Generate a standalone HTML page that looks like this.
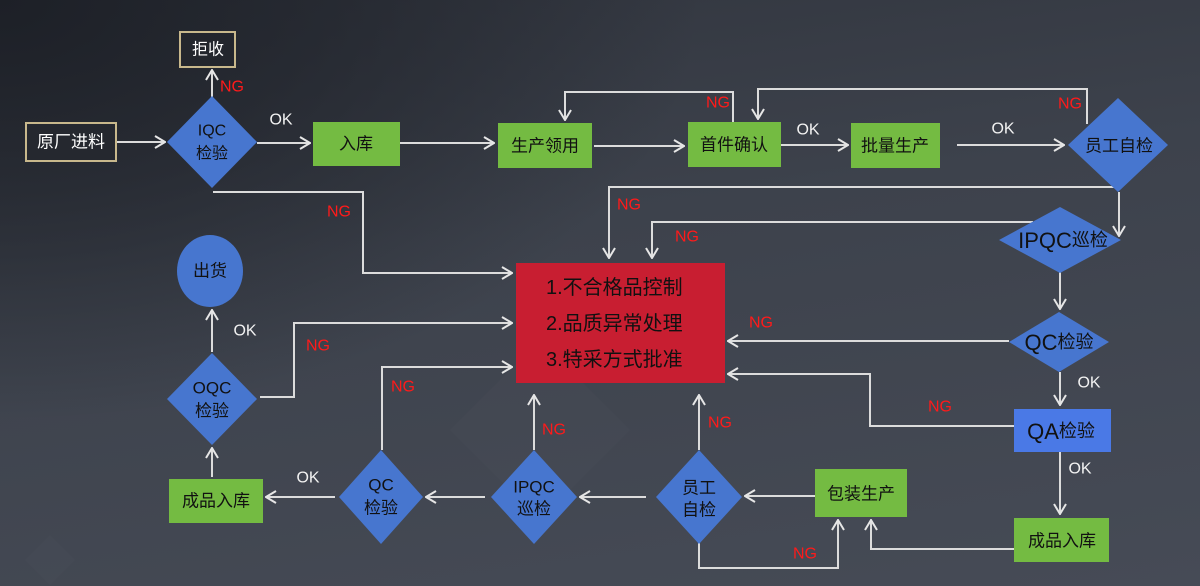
<!DOCTYPE html>
<html><head><meta charset="utf-8"><style>
html,body{margin:0;padding:0;width:1200px;height:586px;overflow:hidden;}
body{position:relative;background:radial-gradient(ellipse 700px 420px at 0% 0%, #1d2027 0%, rgba(29,32,39,0.6) 45%, rgba(29,32,39,0) 100%),linear-gradient(172deg,#31353e 0%,#3d424c 40%,#464b56 100%);}
svg{position:absolute;left:0;top:0;display:block;}
text{font-family:"Liberation Sans","Noto Sans CJK SC",sans-serif;}
</style></head><body>
<svg width="1200" height="586" viewBox="0 0 1200 586" xmlns="http://www.w3.org/2000/svg">
<defs>
<marker id="a" viewBox="0 0 12 14" refX="11" refY="7" markerWidth="12" markerHeight="14" markerUnits="userSpaceOnUse" orient="auto">
<path d="M1,1 L11,7 L1,13" fill="none" stroke="#e6e6e6" stroke-width="2"/>
</marker>
</defs>
<!-- faint background diamonds -->
<g fill="#ffffff" opacity="0.015">
<polygon points="540,340 630,430 540,520 450,430"/>
<polygon points="50,535 75,560 50,585 25,560"/>
</g>

<!-- connectors -->
<g fill="none" stroke="#dcdcdc" stroke-width="2" marker-end="url(#a)">
<path d="M117,142 H165"/>
<path d="M212,97 V70"/>
<path d="M257,143 H310"/>
<path d="M213,192 H363 V273 H512"/>
<path d="M400,143 H494"/>
<path d="M594,146 H684"/>
<path d="M733,122 V92 H565 V120"/>
<path d="M781,145 H848"/>
<path d="M957,145 H1064"/>
<path d="M1087,124 V89 H758 V119"/>
<path d="M1114,187 H609 V258"/>
<path d="M1119,192 V236"/>
<path d="M1033,222 H652 V258"/>
<path d="M1060,272 V309"/>
<path d="M1009,341 H728"/>
<path d="M1060,372 V405"/>
<path d="M1014,426 H870 V374 H728"/>
<path d="M1060,452 V514"/>
<path d="M1014,549 H871 V520"/>
<path d="M815,496 H745"/>
<path d="M699,543 V568 H838 V520"/>
<path d="M699,450 V395"/>
<path d="M646,497 H580"/>
<path d="M534,450 V395"/>
<path d="M485,497 H426"/>
<path d="M382,450 V367 H512"/>
<path d="M335,497 H266"/>
<path d="M212,477 V448"/>
<path d="M260,397 H294 V323 H512"/>
<path d="M212,352 V310"/>
</g>

<!-- nodes -->
<rect x="180" y="32" width="55" height="35" fill="#23262d" stroke="#c8b88c" stroke-width="2"/>
<text x="208" y="50" font-size="16" fill="#ffffff" text-anchor="middle" dominant-baseline="central">拒收</text>
<rect x="26" y="123" width="90" height="38" fill="#25282f" stroke="#c8b88c" stroke-width="2"/>
<text x="71" y="142" font-size="17" fill="#ffffff" text-anchor="middle" dominant-baseline="central">原厂进料</text>

<g fill="#4776cf">
<polygon points="212,96 257,142 212,188 167,142"/>
<polygon points="1118,98 1168,145 1118,192 1068,145"/>
<polygon points="1060,207 1121,240 1060,273 999,240"/>
<polygon points="1059,312 1109,342 1059,372 1009,342"/>
<polygon points="699,450 742,497 699,544 656,497"/>
<polygon points="534,450 577,497 534,544 491,497"/>
<polygon points="381,450 423,497 381,544 339,497"/>
<polygon points="212,353 257,399 212,445 167,399"/>
<ellipse cx="210" cy="271" rx="33" ry="36"/>
</g>
<rect x="1014" y="409" width="97" height="43" fill="#4a79e6"/>

<g fill="#74bb42">
<rect x="313" y="122" width="87" height="44"/>
<rect x="498" y="123" width="94" height="45"/>
<rect x="688" y="122" width="93" height="45"/>
<rect x="851" y="123" width="89" height="45"/>
<rect x="815" y="469" width="92" height="48"/>
<rect x="1014" y="518" width="95" height="44"/>
<rect x="169" y="479" width="94" height="44"/>
</g>
<rect x="516" y="263" width="209" height="120" fill="#c81e31"/>

<g fill="#111111" text-anchor="middle" dominant-baseline="central">
<text x="212" y="131" font-size="16">IQC</text>
<text x="212" y="154" font-size="16">检验</text>
<text x="356" y="144" font-size="17">入库</text>
<text x="545" y="146" font-size="17">生产领用</text>
<text x="734" y="145" font-size="17">首件确认</text>
<text x="895" y="146" font-size="17">批量生产</text>
<text x="1119" y="146" font-size="17">员工自检</text>
<text x="1063" y="240"><tspan font-size="22">IPQC</tspan><tspan font-size="18">巡检</tspan></text>
<text x="1059" y="342"><tspan font-size="22">QC</tspan><tspan font-size="18">检验</tspan></text>
<text x="1061" y="431"><tspan font-size="22">QA</tspan><tspan font-size="18">检验</tspan></text>
<text x="1062" y="541" font-size="17">成品入库</text>
<text x="861" y="494" font-size="17">包装生产</text>
<text x="699" y="488" font-size="17">员工</text>
<text x="699" y="510" font-size="17">自检</text>
<text x="534" y="487" font-size="17">IPQC</text>
<text x="534" y="509" font-size="17">巡检</text>
<text x="381" y="485" font-size="17">QC</text>
<text x="381" y="508" font-size="17">检验</text>
<text x="216" y="501" font-size="17">成品入库</text>
<text x="212" y="388" font-size="17">OQC</text>
<text x="212" y="411" font-size="17">检验</text>
<text x="210" y="271" font-size="17">出货</text>
</g>
<g fill="#111111" font-size="20" dominant-baseline="central">
<text x="546" y="288">1.不合格品控制</text>
<text x="546" y="324">2.品质异常处理</text>
<text x="546" y="360">3.特采方式批准</text>
</g>

<!-- NG labels -->
<g fill="#ff1a1a" font-size="16" text-anchor="middle" dominant-baseline="central">
<text x="232" y="87">NG</text>
<text x="339" y="212">NG</text>
<text x="718" y="103">NG</text>
<text x="1070" y="104">NG</text>
<text x="629" y="205">NG</text>
<text x="687" y="237">NG</text>
<text x="318" y="346">NG</text>
<text x="403" y="387">NG</text>
<text x="554" y="430">NG</text>
<text x="720" y="423">NG</text>
<text x="761" y="323">NG</text>
<text x="940" y="407">NG</text>
<text x="805" y="554">NG</text>
</g>
<!-- OK labels -->
<g fill="#f2f2f2" font-size="16" text-anchor="middle" dominant-baseline="central">
<text x="281" y="120">OK</text>
<text x="808" y="130">OK</text>
<text x="1003" y="129">OK</text>
<text x="245" y="331">OK</text>
<text x="308" y="478">OK</text>
<text x="1089" y="383">OK</text>
<text x="1080" y="469">OK</text>
</g>
</svg>
</body></html>
